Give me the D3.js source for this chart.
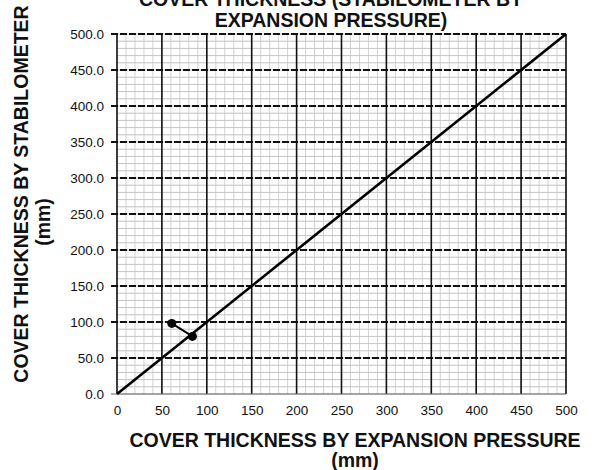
<!DOCTYPE html>
<html>
<head>
<meta charset="utf-8">
<script src="https://cdn.jsdelivr.net/npm/d3@7"></script>
<style>
  body { margin: 0; background: #fff; }
  text { font-family: "Liberation Sans", Arial, sans-serif; fill: #111; }
</style>
</head>
<body>
<svg id="chart" width="597" height="470"></svg>
<script>
// data
var xTicks = [0, 50, 100, 150, 200, 250, 300, 350, 400, 450, 500];
var yTicks = [0, 50, 100, 150, 200, 250, 300, 350, 400, 450, 500];
var equalityX = [0, 500];   // 1:1 line
var equalityY = [0, 500];
var pointX = [61, 84];      // measured points
var pointY = [98, 80];

var svg = d3.select('#chart');
var plotL = 117, plotR = 566, plotT = 34, plotB = 394;

var x = d3.scaleLinear().domain([0, 500]).range([plotL, plotR]);
var y = d3.scaleLinear().domain([0, 500]).range([plotB, plotT]);

// minor grid, every 10 mm
var minor = d3.range(0, 501, 10);
svg.append('g').selectAll('line').data(minor).enter().append('line')
  .attr('x1', function(d) { return x(d); }).attr('x2', function(d) { return x(d); })
  .attr('y1', plotT).attr('y2', plotB)
  .attr('stroke', '#d2d2d2').attr('stroke-width', 1);
svg.append('g').selectAll('line').data(minor).enter().append('line')
  .attr('y1', function(d) { return y(d); }).attr('y2', function(d) { return y(d); })
  .attr('x1', plotL).attr('x2', plotR)
  .attr('stroke', '#c4c4c4').attr('stroke-width', 1);

// major grid: solid verticals, dashed horizontals
svg.append('g').selectAll('line').data(xTicks).enter().append('line')
  .attr('x1', function(d) { return x(d); }).attr('x2', function(d) { return x(d); })
  .attr('y1', plotT).attr('y2', plotB)
  .attr('stroke', '#111').attr('stroke-width', 1.6);
svg.append('g').selectAll('line').data(yTicks.slice(1)).enter().append('line')
  .attr('y1', function(d) { return y(d); }).attr('y2', function(d) { return y(d); })
  .attr('x1', plotL - 6).attr('x2', plotR)
  .attr('stroke', '#111').attr('stroke-width', 2)
  .attr('stroke-dasharray', '7,2');

// bottom axis line
svg.append('line')
  .attr('x1', plotL - 6).attr('x2', plotR).attr('y1', plotB).attr('y2', plotB)
  .attr('stroke', '#666').attr('stroke-width', 1.2);

// axes (labels only, grid does the lines)
var xAxis = d3.axisBottom(x).tickValues(xTicks).tickSize(0).tickPadding(11);
var yAxis = d3.axisLeft(y).tickValues(yTicks).tickSize(0).tickPadding(13).tickFormat(d3.format('.1f'));

var gx = svg.append('g').attr('transform', 'translate(0,' + plotB + ')').call(xAxis);
var gy = svg.append('g').attr('transform', 'translate(' + plotL + ',0)').call(yAxis);
[gx, gy].forEach(function(g) {
  g.select('.domain').remove();
  g.selectAll('text').style('font-size', '13.5px').style('font-family', '"Liberation Sans", Arial, sans-serif').attr('fill', '#111');
});

// 1:1 line
var line = d3.line()
  .x(function(d) { return x(d[0]); })
  .y(function(d) { return y(d[1]); });
svg.append('path')
  .datum(d3.zip(equalityX, equalityY))
  .attr('d', line)
  .attr('fill', 'none').attr('stroke', '#000').attr('stroke-width', 2.6);

// measured points
var pts = d3.zip(pointX, pointY);
svg.append('path').datum(pts).attr('d', line)
  .attr('fill', 'none').attr('stroke', '#000').attr('stroke-width', 2);
svg.append('g').selectAll('circle').data(pts).enter().append('circle')
  .attr('cx', function(d) { return x(d[0]); })
  .attr('cy', function(d) { return y(d[1]); })
  .attr('r', 4.5).attr('fill', '#000');

// titles
function bold(t, px) {
  return t.style('font-weight', 'bold').style('font-size', px + 'px');
}
bold(svg.append('text').attr('x', 331).attr('y', 6).attr('text-anchor', 'middle')
  .text('COVER THICKNESS (STABILOMETER BY'), 19.5);
bold(svg.append('text').attr('x', 331).attr('y', 27).attr('text-anchor', 'middle')
  .text('EXPANSION PRESSURE)'), 19.5);

bold(svg.append('text').attr('x', 355).attr('y', 447).attr('text-anchor', 'middle')
  .text('COVER THICKNESS BY EXPANSION PRESSURE'), 19.5);
bold(svg.append('text').attr('x', 355).attr('y', 467).attr('text-anchor', 'middle')
  .text('(mm)'), 19.5);

bold(svg.append('text').attr('transform', 'translate(28,194) rotate(-90)').attr('text-anchor', 'middle')
  .text('COVER THICKNESS BY STABILOMETER'), 19.5);
bold(svg.append('text').attr('transform', 'translate(50,222) rotate(-90)').attr('text-anchor', 'middle')
  .text('(mm)'), 19.5);
</script>
</body>
</html>
